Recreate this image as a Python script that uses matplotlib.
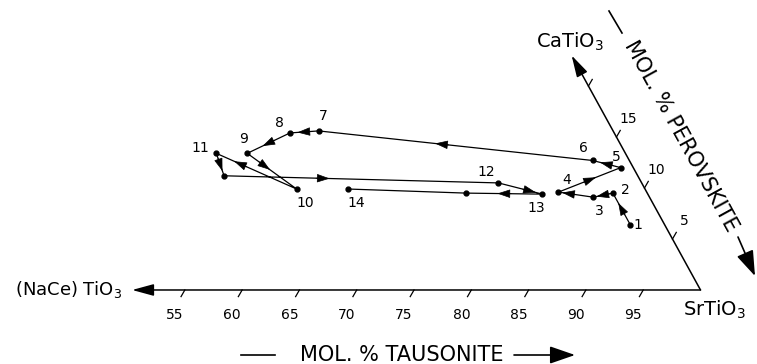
import numpy as np
import matplotlib.pyplot as plt

# composition path: mol % tausonite (SrTiO3), mol % perovskite (CaTiO3)
labels = ["1", "2", "3", "4", "5", "6", "7", "8", "9", "10", "11", "", "12", "13", "", "14"]
tausonite = [90.6, 87.5, 86.0, 82.7, 86.9, 84.1, 58.7, 56.3, 53.6, 59.7, 50.9, 52.7, 77.0, 81.4, 74.7, 64.2]
perovskite = [6.4, 9.5, 9.1, 9.6, 12.0, 12.7, 15.6, 15.4, 13.4, 9.9, 13.4, 11.2, 10.5, 9.4, 9.5, 9.9]

tau_ticks = [55, 60, 65, 70, 75, 80, 85, 90, 95]
perov_ticks = [5, 10, 15, 20]
perov_tick_labels = ["5", "10", "15", ""]

# where the arrowhead sits on each step (None = no arrow)
arrow_at = [0.5, 0.5, 0.7, 0.5, 0.5, 0.55, 0.5, 0.5, 0.35, 0.7, 0.5, 0.36, 0.7, 0.5, None]
# label offsets from the point, in pixels (right, up)
label_off = [(8, 0), (12, 3), (6, -14), (8, 12), (-4, 11), (-9, 12), (5, 15), (-10, 10),
             (-4, 14), (9, -14), (-16, 5), (0, 0), (-12, 11), (-6, -14), (0, 0), (8, -14)]

# the drawn triangle is a touch off 60 degrees
CS, SN = 0.511, 0.890
W, H = 757, 364


def tern(t, p):
    t = np.asarray(t, float)
    p = np.asarray(p, float)
    return t + CS * p, SN * p


def tp(t, p):
    x, y = tern(t, p)
    return float(x), float(y)


def px(x, y):
    return x / W, 1 - y / H


fig = plt.figure(figsize=(W / 100, H / 100), dpi=100)
ax = fig.add_axes([0, 0, 1, 1])
ax.set_xlim(38.87, 104.93)
ax.set_ylim(-6.46, 25.31)
ax.axis("off")

big = dict(arrowstyle="-|>,head_length=1.1,head_width=0.3", mutation_scale=12,
           lw=1.1, color="k", shrinkA=0, shrinkB=0)
# tausonite axis (to the left) and perovskite axis (up-left)
ax.annotate("", xy=tp(50.4, 0), xytext=tp(100, 0), arrowprops=big)
ax.annotate("", xy=tp(77, 23), xytext=tp(100, 0), arrowprops=big)

for t in tau_ticks:
    x0, y0 = tp(t, 0)
    ax.plot([x0, x0 - CS * 0.65], [y0, y0 - SN * 0.65], color="k", lw=0.9)
    ax.annotate(str(t), (x0, y0), xytext=(-7.2, -18), textcoords="offset points",
                ha="center", va="center", fontsize=10)

for p, lab in zip(perov_ticks, perov_tick_labels):
    x0, y0 = tp(100 - p, p)
    ax.plot([x0, x0 + CS * 0.65], [y0, y0 + SN * 0.65], color="k", lw=0.9)
    if lab:
        ax.annotate(lab, (x0, y0), xytext=(8.6, 13), textcoords="offset points",
                    ha="center", va="center", fontsize=10)

# the path
x, y = tern(tausonite, perovskite)
ax.plot(x, y, color="k", lw=0.9)
ax.plot(x, y, "o", color="k", ms=3.5)

small = dict(arrowstyle="-|>,head_length=0.9,head_width=0.3", mutation_scale=9,
             lw=0.5, color="k", shrinkA=0, shrinkB=0)
for i, f in enumerate(arrow_at):
    if f is None:
        continue
    p0 = np.array([x[i], y[i]])
    p1 = np.array([x[i + 1], y[i + 1]])
    d = (p1 - p0) / np.hypot(*(p1 - p0))
    m = p0 + f * (p1 - p0)
    ax.annotate("", xy=m + 0.6 * d, xytext=m - 0.6 * d, arrowprops=small)

for xi, yi, lab, (dx, dy) in zip(x, y, labels, label_off):
    if lab:
        ax.annotate(lab, (xi, yi), xytext=(dx * 0.72, dy * 0.72), textcoords="offset points",
                    ha="center", va="center", fontsize=10)

# end members
ax.annotate("(NaCe) TiO$_3$", tp(50.4, 0), xytext=(-7, 0), textcoords="offset points",
            ha="right", va="center", fontsize=13)
ax.annotate("SrTiO$_3$", tp(100, 0), xytext=(-12.5, -14), textcoords="offset points",
            ha="left", va="center", fontsize=14)
ax.annotate("CaTiO$_3$", tp(77, 23), xytext=(-1.5, 10), textcoords="offset points",
            ha="center", va="center", fontsize=14)

# axis titles
yb = 1 - 355 / H
ax.text(402 / W, yb, "MOL. % TAUSONITE", transform=ax.transAxes,
        ha="center", va="center", fontsize=15)
ax.plot([241 / W, 275 / W], [yb, yb], transform=ax.transAxes, color="k", lw=1.2)
title_arrow = dict(arrowstyle="-|>,head_length=1.3,head_width=0.45", mutation_scale=12,
                   lw=1.2, color="k", shrinkA=0, shrinkB=0)
ax.annotate("", xy=(575 / W, yb), xytext=(514 / W, yb), xycoords="axes fraction",
            arrowprops=title_arrow)

ax.text(*px(681, 136), "MOL. % PEROVSKITE", transform=ax.transAxes, rotation=-61.2,
        rotation_mode="anchor", ha="center", va="center", fontsize=15)
(a, b), (c, d2) = px(609, 11), px(622, 33)
ax.plot([a, c], [b, d2], transform=ax.transAxes, color="k", lw=1.2)
ax.annotate("", xy=px(755, 276), xytext=px(738, 237), xycoords="axes fraction",
            arrowprops=title_arrow)

fig.savefig("out.png", dpi=100)
